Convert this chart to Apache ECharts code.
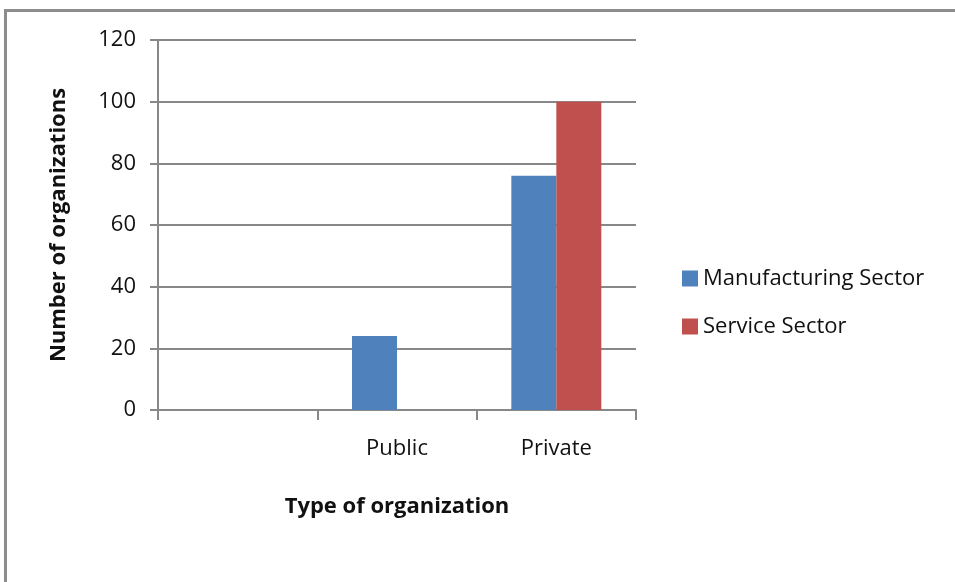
<!DOCTYPE html>
<html>
<head>
<meta charset="utf-8">
<script src="https://cdn.jsdelivr.net/npm/echarts@6/dist/echarts.min.js"></script>
<style>
  body { margin: 0; background: #fff; }
  #frame { position: absolute; left: 4px; top: 9px; width: 960px; height: 600px;
           border-top: 3px solid #8c8c8c; border-left: 3px solid #8c8c8c; }
  #chart { position: absolute; left: 0; top: 0; width: 955px; height: 582px; }
</style>
</head>
<body>
<div id="frame"></div>
<div id="chart"></div>
<script>
/*
* data
*/
var categories = ['', 'Public', 'Private'];
var manufacturing = ['-', 24, 76];
var service = ['-', '-', 100];
var yTicks = [0, 20, 40, 60, 80, 100, 120];

var font = 'Open Sans';

var option = {
  backgroundColor: 'transparent',
  textStyle: { fontFamily: font },
  color: ['#4f81bd', '#c0504d'],
  grid: { left: 158, top: 40, width: 478, height: 370 },
  legend: {
    orient: 'vertical',
    left: 677,
    top: 262,
    itemWidth: 16,
    itemHeight: 16,
    itemGap: 25,
    icon: 'rect',
    textStyle: { fontSize: 22, lineHeight: 23, color: '#111', fontFamily: font },
    data: ['Manufacturing Sector', 'Service Sector']
  },
  xAxis: {
    type: 'category',
    data: categories,
    name: 'Type of organization',
    nameLocation: 'middle',
    nameGap: 86,
    nameTextStyle: { fontSize: 22, fontWeight: 'bold', color: '#111', fontFamily: font },
    axisLine: { lineStyle: { color: '#888', width: 2 } },
    axisTick: { show: true, length: 10, lineStyle: { color: '#888', width: 2 } },
    axisLabel: { fontSize: 22, color: '#111', margin: 28, fontFamily: font }
  },
  yAxis: {
    type: 'value',
    min: 0,
    max: 120,
    interval: 20,
    name: 'Number of organizations',
    nameLocation: 'middle',
    nameGap: 88,
    nameTextStyle: { fontSize: 22, fontWeight: 'bold', color: '#111', fontFamily: font },
    axisLine: { show: true, lineStyle: { color: '#888', width: 2 } },
    axisTick: { show: true, length: 8, lineStyle: { color: '#888', width: 2 } },
    axisLabel: { fontSize: 22, color: '#111', margin: 22, fontFamily: font,
      formatter: function (v) { return yTicks.indexOf(v) >= 0 ? String(v) : ''; } },
    splitLine: { lineStyle: { color: '#888', width: 2 } }
  },
  series: [
    {
      name: 'Manufacturing Sector',
      type: 'bar',
      data: manufacturing,
      barWidth: 45,
      barGap: '0%',
      barCategoryGap: '43%'
    },
    {
      name: 'Service Sector',
      type: 'bar',
      data: service,
      barWidth: 45,
      barGap: '0%'
    }
  ],
  animation: false
};

var chart = echarts.init(document.getElementById('chart'));
chart.setOption(option);
</script>
</body>
</html>
